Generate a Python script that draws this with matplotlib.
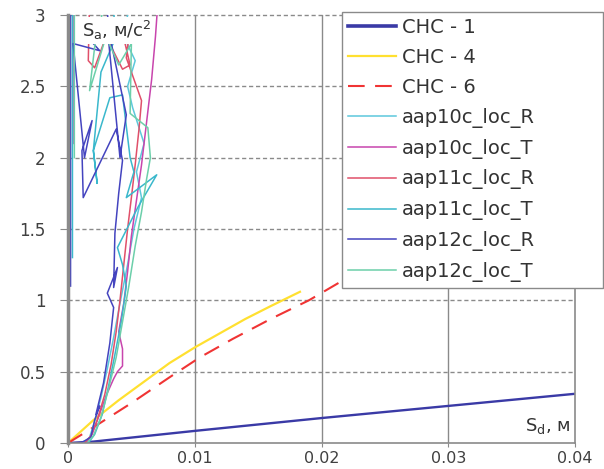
import matplotlib.pyplot as plt
import numpy as np

plt.rcParams['font.family'] = ['DejaVu Sans']
plt.rcParams['mathtext.fontset'] = 'dejavusans'

# capacity / demand spectra (Sd in m, Sa in m/s2)
chc1_x = [0, 0.002, 0.01, 0.02, 0.03, 0.04]
chc1_y = [0, 0.01, 0.085, 0.175, 0.26, 0.345]

chc4_x = [0, 0.001, 0.002, 0.004, 0.006, 0.008, 0.010, 0.012, 0.014, 0.016, 0.0183]
chc4_y = [0, 0.08, 0.16, 0.30, 0.43, 0.56, 0.67, 0.77, 0.87, 0.96, 1.06]

chc6_x = [0, 0.002, 0.005, 0.008, 0.0104, 0.013, 0.016, 0.019, 0.0215, 0.025]
chc6_y = [0, 0.11, 0.28, 0.46, 0.60, 0.73, 0.87, 1.00, 1.13, 1.28]

# recorded spectra
aap10c_R_x = [0.0012, 0.0017, 0.0021, 0.0026, 0.0031, 0.0036, 0.0041, 0.0047, 0.0052, 0.0058,
              0.0054, 0.0060, 0.0051, 0.0047, 0.0053, 0.0044, 0.0049]
aap10c_R_y = [0.00, 0.04, 0.15, 0.32, 0.52, 0.74, 0.98, 1.25, 1.50, 1.72,
              1.90, 2.10, 2.35, 2.50, 2.68, 2.85, 3.10]

aap10c_T_x = [0.0014, 0.0019, 0.0024, 0.0030, 0.0036, 0.0039, 0.0043, 0.0043, 0.0040, 0.0044,
              0.0047, 0.0050, 0.0054, 0.0058, 0.0062, 0.0066, 0.0069, 0.0071, 0.0004, 0.0004]
aap10c_T_y = [0.00, 0.06, 0.18, 0.33, 0.45, 0.50, 0.54, 0.66, 0.78, 0.98,
              1.20, 1.45, 1.70, 1.95, 2.25, 2.55, 2.85, 3.10, 3.10, 2.10]

aap11c_R_x = [0.0013, 0.0018, 0.0023, 0.0029, 0.0034, 0.0038, 0.0041, 0.0044, 0.0047, 0.0050,
              0.0053, 0.0056, 0.0058, 0.0052, 0.0046, 0.0048, 0.0045, 0.0049, 0.0043, 0.0030,
              0.0021, 0.0016, 0.0017]
aap11c_R_y = [0.00, 0.05, 0.16, 0.34, 0.55, 0.78, 1.00, 1.25, 1.50, 1.72,
              1.95, 2.20, 2.40, 2.55, 2.70, 2.85, 2.80, 2.65, 2.62, 2.85,
              2.63, 2.68, 3.10]

aap11c_T_x = [0.0016, 0.0021, 0.0027, 0.0032, 0.0037, 0.0042, 0.0046, 0.0043, 0.0039, 0.0055,
              0.0070, 0.0046, 0.0052, 0.0049, 0.0043, 0.0033, 0.0020, 0.0023, 0.0020, 0.0026,
              0.0038, 0.0035, 0.00035, 0.00035]
aap11c_T_y = [0.00, 0.06, 0.20, 0.40, 0.62, 0.85, 1.10, 1.25, 1.37, 1.65,
              1.88, 1.72, 1.90, 2.00, 2.44, 2.42, 2.05, 1.82, 2.05, 2.60,
              2.85, 3.10, 3.10, 1.30]

aap12c_R_x = [0.0010, 0.0018, 0.0021, 0.0025, 0.0022, 0.0028, 0.0033, 0.0036, 0.0031, 0.0039,
              0.0036, 0.0037, 0.0040, 0.0043, 0.0038, 0.0012, 0.0011, 0.0019, 0.0013, 0.0004,
              0.0025, 0.0020, 0.0032, 0.0041, 0.0046, 0.0033, 0.0030, 0.0002, 0.0002]
aap12c_R_y = [0.00, 0.04, 0.16, 0.26, 0.20, 0.42, 0.70, 0.95, 1.05, 1.23,
              1.09, 1.47, 1.75, 1.98, 2.20, 1.72, 2.05, 2.26, 2.00, 2.80,
              2.75, 2.80, 2.82, 2.00, 2.30, 2.85, 3.10, 3.10, 1.10]

aap12c_T_x = [0.0015, 0.0020, 0.0026, 0.0032, 0.0038, 0.0043, 0.0048, 0.0053, 0.0058, 0.0062,
              0.0065, 0.0063, 0.0049, 0.0050, 0.0040, 0.0030, 0.0017, 0.0022, 0.0030, 0.0005, 0.0005]
aap12c_T_y = [0.00, 0.05, 0.18, 0.38, 0.60, 0.85, 1.10, 1.38, 1.62, 1.85,
              2.00, 2.21, 2.31, 2.80, 2.65, 2.85, 2.47, 2.85, 3.10, 3.10, 2.00]

x_ticks = [0, 0.01, 0.02, 0.03, 0.04]
x_labels = ['0', '0.01', '0.02', '0.03', '0.04']
y_ticks = [0, 0.5, 1, 1.5, 2, 2.5, 3]
y_labels = ['0', '0.5', '1', '1.5', '2', '2.5', '3']

grid_col = '#8a8a8a'

fig = plt.figure(figsize=(6.04, 4.69), dpi=100, facecolor='white')
ax = fig.add_axes([0.1126, 0.0554, 0.8394, 0.9126])

ax.plot(chc1_x, chc1_y, color='#3a3aa6', lw=1.7, label='CHC - 1')
ax.plot(chc4_x, chc4_y, color='#ffe030', lw=1.6, label='CHC - 4')
ax.plot(chc6_x, chc6_y, color='#f03434', lw=1.5, dashes=(8, 5), label='CHC - 6')
ax.plot(aap10c_R_x, aap10c_R_y, color='#5cc8dc', lw=1.1, label='aap10c_loc_R')
ax.plot(aap10c_T_x, aap10c_T_y, color='#c845ad', lw=1.1, label='aap10c_loc_T')
ax.plot(aap11c_R_x, aap11c_R_y, color='#e0506a', lw=1.1, label='aap11c_loc_R')
ax.plot(aap11c_T_x, aap11c_T_y, color='#3ab8cc', lw=1.1, label='aap11c_loc_T')
ax.plot(aap12c_R_x, aap12c_R_y, color='#4444bf', lw=1.1, label='aap12c_loc_R')
ax.plot(aap12c_T_x, aap12c_T_y, color='#6ccfaa', lw=1.1, label='aap12c_loc_T')

ax.set_xlim(0, 0.04)
ax.set_ylim(0, 3)
ax.set_xticks(x_ticks)
ax.set_xticklabels(x_labels)
ax.set_yticks(y_ticks)
ax.set_yticklabels(y_labels)
ax.tick_params(axis='both', color=grid_col, labelcolor='#404040')
ax.tick_params(axis='x', length=3, pad=3, labelsize=11.5)
ax.tick_params(axis='y', length=6, pad=10, labelsize=12)

for xv in x_ticks[1:-1]:
    ax.axvline(xv, color=grid_col, lw=1.0, zorder=0)
for yv in y_ticks[1:]:
    ax.axhline(yv, color=grid_col, lw=1.0, ls=(0, (3, 2)), zorder=0, clip_on=False)

ax.spines['top'].set_visible(False)
for s in ['left', 'right', 'bottom']:
    ax.spines[s].set_color(grid_col)
    ax.spines[s].set_linewidth(1.2)
ax.spines['left'].set_linewidth(2.5)

ax.text(0.0011, 2.89, r'S$_\mathrm{a}$, м/с$^2$', fontsize=13, color='#333333', va='center',
        ha='left', bbox=dict(facecolor='white', edgecolor='none', pad=1.5), zorder=5)
ax.text(0.0396, 0.12, r'S$_\mathrm{d}$, м', fontsize=13, color='#333333', va='center', ha='right')

leg = fig.legend(loc='upper left', bbox_to_anchor=(0.566, 0.4, 0.432, 0.574), mode='expand',
                 fontsize=14, handlelength=2.5, labelspacing=0.56, borderpad=0.3,
                 handletextpad=0.3, fancybox=False, framealpha=1, edgecolor=grid_col,
                 borderaxespad=0)
leg.get_frame().set_linewidth(1.0)
leg.get_lines()[0].set_linewidth(2.6)
for t in leg.get_texts():
    t.set_color('#333333')

fig.savefig('out.png', dpi=100, facecolor='white')
